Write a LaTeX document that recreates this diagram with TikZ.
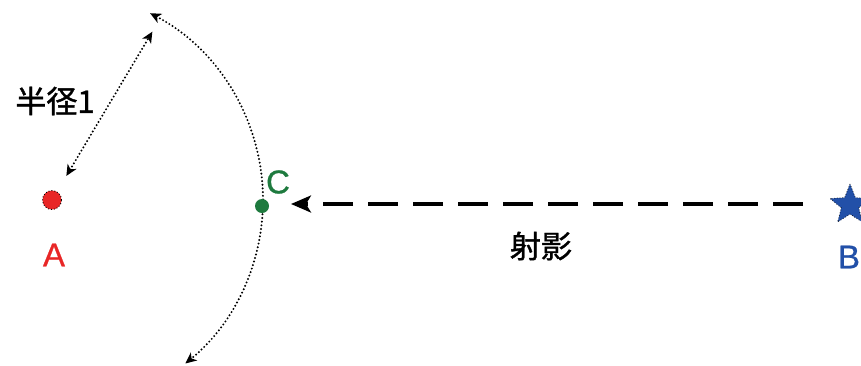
\documentclass[tikz,border=0pt]{standalone}
\usepackage{fontspec}
\setmainfont{Liberation Sans}[FakeBold=0.8]
\newfontfamily\cjk{Noto Sans CJK JP}[FakeBold=1.2]
\usetikzlibrary{shapes.geometric,arrows.meta,calc}
\definecolor{ptred}{RGB}{232,38,38}
\definecolor{ptgreen}{RGB}{30,122,62}
\definecolor{ptblue}{RGB}{34,80,168}
\tikzset{
  dotline/.style={line width=2.2pt, dash pattern=on 0pt off 3.7pt, line cap=round},
  lbl/.style={font=\fontsize{33}{35}\selectfont, inner sep=0pt},
  clbl/.style={font=\fontsize{31}{33}\selectfont\cjk, inner sep=0pt},
  tipd/.tip={Stealth[length=11pt,width=10pt,inset=3pt]},
}
\begin{document}
\begin{tikzpicture}[x=1pt,y=-1pt]
\useasboundingbox (0,0) rectangle (861,365);
% centre point
\node[circle, fill=ptred, draw=black, dotted, line width=0.9pt, minimum size=19pt, inner sep=0pt] (A) at (52,200) {};
% arc of radius around A
\coordinate (T) at ($(A)+(-62.3:211)$);
\draw[dotline, tipd-tipd] (T) arc[start angle=-62.3, end angle=50.8, radius=211];
% radius arrow
\coordinate (R1) at ($(A)+(-59.2:28)$);
\coordinate (R2) at ($(A)+(-59.2:196)$);
\draw[dotline, tipd-tipd] (R1) -- (R2);
% other points
\node[circle, fill=ptgreen, minimum size=14pt, inner sep=0pt] (C) at (262,206) {};
\node[star, star points=5, star point ratio=2.3, fill=ptblue, draw=black, dotted, line width=0.7pt, minimum size=42pt, inner sep=0pt] (B) at (850,205) {};
% labels
\node[lbl, text=ptred] (la) at (54,255) {A};
\node[lbl, text=ptgreen] (lc) at (278,182) {C};
\node[lbl, text=ptblue] (lb) at (849,257) {B};
\node[clbl] (lr) at (55,101) {半径1};
\node[clbl] (lp) at (541,246) {射影};
% projection arrow
\coordinate (P0) at (803,204);
\coordinate (P1) at (291,204);
\draw[line width=3.2pt, dash pattern=on 30pt off 15pt, -{Stealth[length=20pt,width=17pt,inset=5pt]}] (P0) -- (P1);
\end{tikzpicture}
\end{document}
